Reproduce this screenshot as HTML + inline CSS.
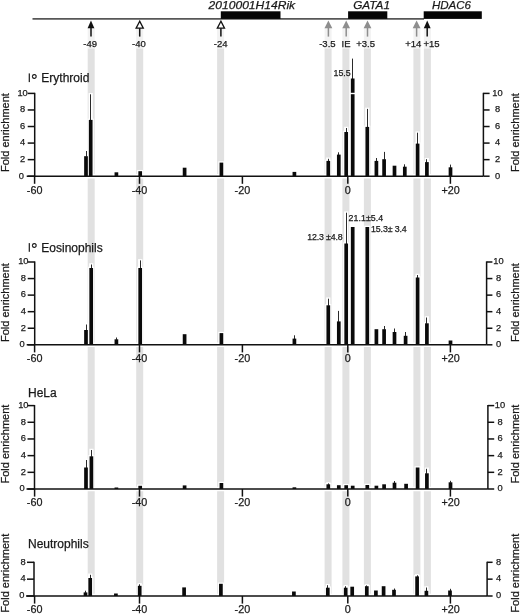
<!DOCTYPE html><html><head><meta charset="utf-8"><title>GATA1 ChIP</title>
<style>html,body{margin:0;padding:0;background:#fff;}svg{display:block;will-change:transform;font-family:"Liberation Sans", sans-serif;}text{stroke:#1a1a1a;stroke-width:0.25px;}</style></head><body>
<svg width="520" height="614" viewBox="0 0 520 614">
<rect width="520" height="614" fill="#fff"/>
<rect x="87.70" y="27.5" width="7.00" height="21.00" fill="#f2f2f2"/>
<rect x="87.70" y="48.50" width="7.00" height="547.50" fill="#e1e1e1"/>
<rect x="136.20" y="27.5" width="7.00" height="21.00" fill="#f2f2f2"/>
<rect x="136.20" y="48.50" width="7.00" height="547.50" fill="#e1e1e1"/>
<rect x="217.10" y="27.5" width="7.00" height="21.00" fill="#f2f2f2"/>
<rect x="217.10" y="48.50" width="7.00" height="547.50" fill="#e1e1e1"/>
<rect x="324.60" y="27.5" width="7.00" height="21.00" fill="#f2f2f2"/>
<rect x="324.60" y="48.50" width="7.00" height="547.50" fill="#e1e1e1"/>
<rect x="342.40" y="27.5" width="7.00" height="21.00" fill="#f2f2f2"/>
<rect x="342.40" y="48.50" width="7.00" height="547.50" fill="#e1e1e1"/>
<rect x="363.90" y="27.5" width="7.00" height="21.00" fill="#f2f2f2"/>
<rect x="363.90" y="48.50" width="7.00" height="547.50" fill="#e1e1e1"/>
<rect x="413.40" y="27.5" width="7.00" height="21.00" fill="#f2f2f2"/>
<rect x="413.40" y="48.50" width="7.00" height="547.50" fill="#e1e1e1"/>
<rect x="423.90" y="27.5" width="7.00" height="21.00" fill="#f2f2f2"/>
<rect x="423.90" y="48.50" width="7.00" height="547.50" fill="#e1e1e1"/>
<line x1="32.5" y1="18.8" x2="424" y2="18.8" stroke="#575757" stroke-width="1.8"/>
<rect x="220.80" y="11.3" width="59.70" height="7.6" fill="#050505"/>
<rect x="348.10" y="11.3" width="39.20" height="7.6" fill="#050505"/>
<rect x="423.70" y="11.3" width="58.10" height="7.6" fill="#050505"/>
<g font-style="italic" font-size="11.5" fill="#1a1a1a">
<text x="208.6" y="9.4" textLength="86.5" lengthAdjust="spacingAndGlyphs">2010001H14Rik</text>
<text x="353.2" y="8.8" textLength="36.8" lengthAdjust="spacingAndGlyphs">GATA1</text>
<text x="432.0" y="9.4" textLength="39.0" lengthAdjust="spacingAndGlyphs">HDAC6</text>
</g>
<path d="M91.00 20.60 L87.60 28.20 L94.40 28.20 Z" fill="#111"/>
<line x1="91.00" y1="27.20" x2="91.00" y2="36.60" stroke="#111" stroke-width="1.5"/>
<path d="M139.70 21.20 L136.10 28.20 L143.30 28.20 Z" fill="#fff" stroke="#111" stroke-width="1.3"/>
<line x1="139.70" y1="28.20" x2="139.70" y2="36.60" stroke="#111" stroke-width="1.5"/>
<path d="M220.90 21.20 L217.30 28.20 L224.50 28.20 Z" fill="#fff" stroke="#111" stroke-width="1.3"/>
<line x1="220.90" y1="28.20" x2="220.90" y2="36.60" stroke="#111" stroke-width="1.5"/>
<path d="M328.40 20.60 L324.50 28.20 L332.30 28.20 Z" fill="#8e8e8e"/>
<line x1="328.40" y1="27.20" x2="328.40" y2="36.60" stroke="#8e8e8e" stroke-width="1.5"/>
<path d="M346.20 20.60 L342.30 28.20 L350.10 28.20 Z" fill="#8e8e8e"/>
<line x1="346.20" y1="27.20" x2="346.20" y2="36.60" stroke="#8e8e8e" stroke-width="1.5"/>
<path d="M367.50 20.60 L363.60 28.20 L371.40 28.20 Z" fill="#8e8e8e"/>
<line x1="367.50" y1="27.20" x2="367.50" y2="36.60" stroke="#8e8e8e" stroke-width="1.5"/>
<path d="M416.60 20.60 L412.70 28.20 L420.50 28.20 Z" fill="#8e8e8e"/>
<line x1="416.60" y1="27.20" x2="416.60" y2="36.60" stroke="#8e8e8e" stroke-width="1.5"/>
<path d="M427.20 20.60 L423.80 28.20 L430.60 28.20 Z" fill="#111"/>
<line x1="427.20" y1="27.20" x2="427.20" y2="36.60" stroke="#111" stroke-width="1.5"/>
<g font-size="9.5" fill="#1a1a1a" text-anchor="middle">
<text x="90.10" y="46.9">-49</text>
<text x="138.90" y="46.9">-40</text>
<text x="220.60" y="46.9">-24</text>
<text x="327.40" y="46.9">-3.5</text>
<text x="346.00" y="46.9">IE</text>
<text x="365.60" y="46.9">+3.5</text>
<text x="413.20" y="46.9">+14</text>
<text x="431.60" y="46.9">+15</text>
</g>
<rect x="28.7" y="73.40" width="1.2" height="8.7" fill="#1a1a1a"/>
<text x="31.0" y="85.50" font-size="16.5" stroke-width="0.3" fill="#1a1a1a">°</text>
<text x="41.3" y="82.00" font-size="12" fill="#1a1a1a">Erythroid</text>
<text transform="translate(9.0 132.60) rotate(-90)" font-size="11" text-anchor="middle" fill="#1a1a1a">Fold enrichment</text>
<text transform="translate(519.0 132.60) rotate(-90)" font-size="11" text-anchor="middle" fill="#1a1a1a">Fold enrichment</text>
<rect x="82.90" y="154.95" width="6.20" height="21.25" fill="#fff"/>
<rect x="83.90" y="149.75" width="4.20" height="6.45" fill="#fff"/>
<rect x="87.60" y="118.65" width="6.20" height="57.55" fill="#fff"/>
<rect x="88.60" y="93.05" width="4.20" height="26.85" fill="#fff"/>
<rect x="113.30" y="171.05" width="6.20" height="5.15" fill="#fff"/>
<rect x="137.10" y="169.95" width="6.20" height="6.25" fill="#fff"/>
<rect x="181.50" y="166.45" width="6.20" height="9.75" fill="#fff"/>
<rect x="218.30" y="161.35" width="6.20" height="14.85" fill="#fff"/>
<rect x="291.30" y="170.65" width="6.20" height="5.55" fill="#fff"/>
<rect x="325.20" y="159.65" width="6.20" height="16.55" fill="#fff"/>
<rect x="326.20" y="157.55" width="4.20" height="3.35" fill="#fff"/>
<rect x="335.70" y="153.35" width="6.20" height="22.85" fill="#fff"/>
<rect x="336.70" y="151.05" width="4.20" height="3.55" fill="#fff"/>
<rect x="343.10" y="130.75" width="6.20" height="45.45" fill="#fff"/>
<rect x="344.10" y="126.75" width="4.20" height="5.25" fill="#fff"/>
<rect x="349.60" y="77.25" width="6.20" height="98.95" fill="#fff"/>
<rect x="350.60" y="57.35" width="4.20" height="21.15" fill="#fff"/>
<rect x="364.20" y="125.65" width="6.20" height="50.55" fill="#fff"/>
<rect x="365.20" y="107.65" width="4.20" height="19.25" fill="#fff"/>
<rect x="373.30" y="159.65" width="6.20" height="16.55" fill="#fff"/>
<rect x="374.30" y="156.75" width="4.20" height="4.15" fill="#fff"/>
<rect x="381.00" y="157.95" width="6.20" height="18.25" fill="#fff"/>
<rect x="382.00" y="150.65" width="4.20" height="8.55" fill="#fff"/>
<rect x="391.40" y="164.45" width="6.20" height="11.75" fill="#fff"/>
<rect x="401.70" y="165.45" width="6.20" height="10.75" fill="#fff"/>
<rect x="402.70" y="163.05" width="4.20" height="3.65" fill="#fff"/>
<rect x="414.50" y="142.35" width="6.20" height="33.85" fill="#fff"/>
<rect x="415.50" y="131.45" width="4.20" height="12.15" fill="#fff"/>
<rect x="423.80" y="160.85" width="6.20" height="15.35" fill="#fff"/>
<rect x="424.80" y="157.95" width="4.20" height="4.15" fill="#fff"/>
<rect x="447.40" y="166.05" width="6.20" height="10.15" fill="#fff"/>
<rect x="448.40" y="163.35" width="4.20" height="3.95" fill="#fff"/>
<line x1="34.70" y1="176.20" x2="483.40" y2="176.20" stroke="#fff" stroke-width="4.5"/>
<line x1="86.50" y1="151.00" x2="86.50" y2="156.70" stroke="#2a2a2a" stroke-width="1"/>
<rect x="84.15" y="156.20" width="3.70" height="20.00" fill="#0a0a0a"/>
<line x1="90.50" y1="94.30" x2="90.50" y2="120.40" stroke="#2a2a2a" stroke-width="1"/>
<rect x="88.85" y="119.90" width="3.70" height="56.30" fill="#0a0a0a"/>
<rect x="114.55" y="172.30" width="3.70" height="3.90" fill="#0a0a0a"/>
<rect x="138.35" y="171.20" width="3.70" height="5.00" fill="#0a0a0a"/>
<rect x="182.75" y="167.70" width="3.70" height="8.50" fill="#0a0a0a"/>
<rect x="219.55" y="162.60" width="3.70" height="13.60" fill="#0a0a0a"/>
<rect x="292.55" y="171.90" width="3.70" height="4.30" fill="#0a0a0a"/>
<line x1="328.50" y1="158.80" x2="328.50" y2="161.40" stroke="#2a2a2a" stroke-width="1"/>
<rect x="326.45" y="160.90" width="3.70" height="15.30" fill="#0a0a0a"/>
<line x1="338.50" y1="152.30" x2="338.50" y2="155.10" stroke="#2a2a2a" stroke-width="1"/>
<rect x="336.95" y="154.60" width="3.70" height="21.60" fill="#0a0a0a"/>
<line x1="346.50" y1="128.00" x2="346.50" y2="132.50" stroke="#2a2a2a" stroke-width="1"/>
<rect x="344.35" y="132.00" width="3.70" height="44.20" fill="#0a0a0a"/>
<line x1="352.50" y1="58.60" x2="352.50" y2="79.00" stroke="#2a2a2a" stroke-width="1"/>
<rect x="350.85" y="78.50" width="3.70" height="97.70" fill="#0a0a0a"/>
<line x1="367.50" y1="108.90" x2="367.50" y2="127.40" stroke="#2a2a2a" stroke-width="1"/>
<rect x="365.45" y="126.90" width="3.70" height="49.30" fill="#0a0a0a"/>
<line x1="376.50" y1="158.00" x2="376.50" y2="161.40" stroke="#2a2a2a" stroke-width="1"/>
<rect x="374.55" y="160.90" width="3.70" height="15.30" fill="#0a0a0a"/>
<line x1="384.50" y1="151.90" x2="384.50" y2="159.70" stroke="#2a2a2a" stroke-width="1"/>
<rect x="382.25" y="159.20" width="3.70" height="17.00" fill="#0a0a0a"/>
<rect x="392.65" y="165.70" width="3.70" height="10.50" fill="#0a0a0a"/>
<line x1="404.50" y1="164.30" x2="404.50" y2="167.20" stroke="#2a2a2a" stroke-width="1"/>
<rect x="402.95" y="166.70" width="3.70" height="9.50" fill="#0a0a0a"/>
<line x1="417.50" y1="132.70" x2="417.50" y2="144.10" stroke="#2a2a2a" stroke-width="1"/>
<rect x="415.75" y="143.60" width="3.70" height="32.60" fill="#0a0a0a"/>
<line x1="426.50" y1="159.20" x2="426.50" y2="162.60" stroke="#2a2a2a" stroke-width="1"/>
<rect x="425.05" y="162.10" width="3.70" height="14.10" fill="#0a0a0a"/>
<line x1="450.50" y1="164.60" x2="450.50" y2="167.80" stroke="#2a2a2a" stroke-width="1"/>
<rect x="448.65" y="167.30" width="3.70" height="8.90" fill="#0a0a0a"/>
<g stroke="#111" stroke-width="1.5" fill="none">
<line x1="26.70" y1="176.20" x2="483.40" y2="176.20"/>
<line x1="34.70" y1="92.80" x2="34.70" y2="176.20"/>
<line x1="483.40" y1="92.80" x2="483.40" y2="176.20"/>
<line x1="27.70" y1="176.20" x2="34.70" y2="176.20"/>
<line x1="483.40" y1="176.20" x2="489.60" y2="176.20"/>
<line x1="27.70" y1="159.64" x2="34.70" y2="159.64"/>
<line x1="483.40" y1="159.64" x2="489.60" y2="159.64"/>
<line x1="27.70" y1="143.08" x2="34.70" y2="143.08"/>
<line x1="483.40" y1="143.08" x2="489.60" y2="143.08"/>
<line x1="27.70" y1="126.52" x2="34.70" y2="126.52"/>
<line x1="483.40" y1="126.52" x2="489.60" y2="126.52"/>
<line x1="27.70" y1="109.96" x2="34.70" y2="109.96"/>
<line x1="483.40" y1="109.96" x2="489.60" y2="109.96"/>
<line x1="27.70" y1="93.40" x2="34.70" y2="93.40"/>
<line x1="483.40" y1="93.40" x2="489.60" y2="93.40"/>
<line x1="34.60" y1="176.20" x2="34.60" y2="183.80"/>
<line x1="139.50" y1="176.20" x2="139.50" y2="183.80"/>
<line x1="242.40" y1="176.20" x2="242.40" y2="183.80"/>
<line x1="347.80" y1="176.20" x2="347.80" y2="183.80"/>
<line x1="450.40" y1="176.20" x2="450.40" y2="183.80"/>
</g>
<g font-size="9.3" text-anchor="middle" fill="#1a1a1a">
<text x="21.40" y="178.50">0</text>
<text x="497.50" y="178.50">0</text>
<text x="22.60" y="161.94">2</text>
<text x="497.50" y="161.94">2</text>
<text x="22.60" y="145.38">4</text>
<text x="497.50" y="145.38">4</text>
<text x="22.60" y="128.82">6</text>
<text x="497.50" y="128.82">6</text>
<text x="22.60" y="112.26">8</text>
<text x="497.50" y="112.26">8</text>
<text x="22.60" y="95.70">10</text>
<text x="497.50" y="95.70">10</text>
</g>
<g font-size="10.8" text-anchor="middle" fill="#1a1a1a">
<text x="34.60" y="193.80">-60</text>
<text x="139.50" y="193.80">-40</text>
<text x="242.40" y="193.80">-20</text>
<text x="347.80" y="193.80">0</text>
<text x="450.70" y="193.80">+20</text>
</g>
<rect x="28.7" y="243.10" width="1.2" height="8.7" fill="#1a1a1a"/>
<text x="31.0" y="255.20" font-size="16.5" stroke-width="0.3" fill="#1a1a1a">°</text>
<text x="41.3" y="251.70" font-size="12" fill="#1a1a1a">Eosinophils</text>
<text transform="translate(9.0 302.60) rotate(-90)" font-size="11" text-anchor="middle" fill="#1a1a1a">Fold enrichment</text>
<text transform="translate(519.0 302.60) rotate(-90)" font-size="11" text-anchor="middle" fill="#1a1a1a">Fold enrichment</text>
<rect x="82.90" y="328.75" width="6.20" height="16.05" fill="#fff"/>
<rect x="83.90" y="323.25" width="4.20" height="6.75" fill="#fff"/>
<rect x="88.10" y="266.75" width="6.20" height="78.05" fill="#fff"/>
<rect x="89.10" y="263.25" width="4.20" height="4.75" fill="#fff"/>
<rect x="113.30" y="338.05" width="6.20" height="6.75" fill="#fff"/>
<rect x="114.30" y="336.25" width="4.20" height="3.05" fill="#fff"/>
<rect x="137.10" y="266.75" width="6.20" height="78.05" fill="#fff"/>
<rect x="138.10" y="259.15" width="4.20" height="8.85" fill="#fff"/>
<rect x="181.50" y="332.95" width="6.20" height="11.85" fill="#fff"/>
<rect x="218.30" y="331.85" width="6.20" height="12.95" fill="#fff"/>
<rect x="291.30" y="337.35" width="6.20" height="7.45" fill="#fff"/>
<rect x="292.30" y="334.05" width="4.20" height="4.55" fill="#fff"/>
<rect x="325.20" y="304.05" width="6.20" height="40.75" fill="#fff"/>
<rect x="326.20" y="297.45" width="4.20" height="7.85" fill="#fff"/>
<rect x="335.70" y="320.15" width="6.20" height="24.65" fill="#fff"/>
<rect x="336.70" y="309.65" width="4.20" height="11.75" fill="#fff"/>
<rect x="343.10" y="242.25" width="6.20" height="102.55" fill="#fff"/>
<rect x="344.10" y="211.45" width="4.20" height="32.05" fill="#fff"/>
<rect x="349.60" y="225.75" width="6.20" height="119.05" fill="#fff"/>
<rect x="364.20" y="225.75" width="6.20" height="119.05" fill="#fff"/>
<rect x="373.30" y="327.95" width="6.20" height="16.85" fill="#fff"/>
<rect x="381.00" y="327.95" width="6.20" height="16.85" fill="#fff"/>
<rect x="382.00" y="324.75" width="4.20" height="4.45" fill="#fff"/>
<rect x="391.40" y="330.75" width="6.20" height="14.05" fill="#fff"/>
<rect x="392.40" y="327.25" width="4.20" height="4.75" fill="#fff"/>
<rect x="402.50" y="334.55" width="6.20" height="10.25" fill="#fff"/>
<rect x="403.50" y="330.75" width="4.20" height="5.05" fill="#fff"/>
<rect x="414.50" y="276.25" width="6.20" height="68.55" fill="#fff"/>
<rect x="415.50" y="273.75" width="4.20" height="3.75" fill="#fff"/>
<rect x="423.80" y="322.05" width="6.20" height="22.75" fill="#fff"/>
<rect x="424.80" y="316.25" width="4.20" height="7.05" fill="#fff"/>
<rect x="447.40" y="339.25" width="6.20" height="5.55" fill="#fff"/>
<line x1="34.70" y1="344.80" x2="486.60" y2="344.80" stroke="#fff" stroke-width="4.5"/>
<line x1="86.50" y1="324.50" x2="86.50" y2="330.50" stroke="#2a2a2a" stroke-width="1"/>
<rect x="84.15" y="330.00" width="3.70" height="14.80" fill="#0a0a0a"/>
<line x1="91.50" y1="264.50" x2="91.50" y2="268.50" stroke="#2a2a2a" stroke-width="1"/>
<rect x="89.35" y="268.00" width="3.70" height="76.80" fill="#0a0a0a"/>
<line x1="116.50" y1="337.50" x2="116.50" y2="339.80" stroke="#2a2a2a" stroke-width="1"/>
<rect x="114.55" y="339.30" width="3.70" height="5.50" fill="#0a0a0a"/>
<line x1="140.50" y1="260.40" x2="140.50" y2="268.50" stroke="#2a2a2a" stroke-width="1"/>
<rect x="138.35" y="268.00" width="3.70" height="76.80" fill="#0a0a0a"/>
<rect x="182.75" y="334.20" width="3.70" height="10.60" fill="#0a0a0a"/>
<rect x="219.55" y="333.10" width="3.70" height="11.70" fill="#0a0a0a"/>
<line x1="294.50" y1="335.30" x2="294.50" y2="339.10" stroke="#2a2a2a" stroke-width="1"/>
<rect x="292.55" y="338.60" width="3.70" height="6.20" fill="#0a0a0a"/>
<line x1="328.50" y1="298.70" x2="328.50" y2="305.80" stroke="#2a2a2a" stroke-width="1"/>
<rect x="326.45" y="305.30" width="3.70" height="39.50" fill="#0a0a0a"/>
<line x1="338.50" y1="310.90" x2="338.50" y2="321.90" stroke="#2a2a2a" stroke-width="1"/>
<rect x="336.95" y="321.40" width="3.70" height="23.40" fill="#0a0a0a"/>
<line x1="346.50" y1="212.70" x2="346.50" y2="244.00" stroke="#2a2a2a" stroke-width="1"/>
<rect x="344.35" y="243.50" width="3.70" height="101.30" fill="#0a0a0a"/>
<rect x="350.85" y="227.00" width="3.70" height="117.80" fill="#0a0a0a"/>
<rect x="365.45" y="227.00" width="3.70" height="117.80" fill="#0a0a0a"/>
<rect x="374.55" y="329.20" width="3.70" height="15.60" fill="#0a0a0a"/>
<line x1="384.50" y1="326.00" x2="384.50" y2="329.70" stroke="#2a2a2a" stroke-width="1"/>
<rect x="382.25" y="329.20" width="3.70" height="15.60" fill="#0a0a0a"/>
<line x1="394.50" y1="328.50" x2="394.50" y2="332.50" stroke="#2a2a2a" stroke-width="1"/>
<rect x="392.65" y="332.00" width="3.70" height="12.80" fill="#0a0a0a"/>
<line x1="405.50" y1="332.00" x2="405.50" y2="336.30" stroke="#2a2a2a" stroke-width="1"/>
<rect x="403.75" y="335.80" width="3.70" height="9.00" fill="#0a0a0a"/>
<line x1="417.50" y1="275.00" x2="417.50" y2="278.00" stroke="#2a2a2a" stroke-width="1"/>
<rect x="415.75" y="277.50" width="3.70" height="67.30" fill="#0a0a0a"/>
<line x1="426.50" y1="317.50" x2="426.50" y2="323.80" stroke="#2a2a2a" stroke-width="1"/>
<rect x="425.05" y="323.30" width="3.70" height="21.50" fill="#0a0a0a"/>
<rect x="448.65" y="340.50" width="3.70" height="4.30" fill="#0a0a0a"/>
<g stroke="#111" stroke-width="1.5" fill="none">
<line x1="26.70" y1="344.80" x2="486.60" y2="344.80"/>
<line x1="34.70" y1="261.40" x2="34.70" y2="344.80"/>
<line x1="486.60" y1="261.40" x2="486.60" y2="344.80"/>
<line x1="27.70" y1="344.80" x2="34.70" y2="344.80"/>
<line x1="486.60" y1="344.80" x2="492.40" y2="344.80"/>
<line x1="27.70" y1="328.24" x2="34.70" y2="328.24"/>
<line x1="486.60" y1="328.24" x2="492.40" y2="328.24"/>
<line x1="27.70" y1="311.68" x2="34.70" y2="311.68"/>
<line x1="486.60" y1="311.68" x2="492.40" y2="311.68"/>
<line x1="27.70" y1="295.12" x2="34.70" y2="295.12"/>
<line x1="486.60" y1="295.12" x2="492.40" y2="295.12"/>
<line x1="27.70" y1="278.56" x2="34.70" y2="278.56"/>
<line x1="486.60" y1="278.56" x2="492.40" y2="278.56"/>
<line x1="27.70" y1="262.00" x2="34.70" y2="262.00"/>
<line x1="486.60" y1="262.00" x2="492.40" y2="262.00"/>
<line x1="34.60" y1="344.80" x2="34.60" y2="352.40"/>
<line x1="139.50" y1="344.80" x2="139.50" y2="352.40"/>
<line x1="242.40" y1="344.80" x2="242.40" y2="352.40"/>
<line x1="347.80" y1="344.80" x2="347.80" y2="352.40"/>
<line x1="450.40" y1="344.80" x2="450.40" y2="352.40"/>
</g>
<g font-size="9.3" text-anchor="middle" fill="#1a1a1a">
<text x="22.10" y="347.10">0</text>
<text x="498.50" y="347.10">0</text>
<text x="23.30" y="330.54">2</text>
<text x="498.50" y="330.54">2</text>
<text x="23.30" y="313.98">4</text>
<text x="498.50" y="313.98">4</text>
<text x="23.30" y="297.42">6</text>
<text x="498.50" y="297.42">6</text>
<text x="23.30" y="280.86">8</text>
<text x="498.50" y="280.86">8</text>
<text x="23.30" y="264.30">10</text>
<text x="498.50" y="264.30">10</text>
</g>
<g font-size="10.8" text-anchor="middle" fill="#1a1a1a">
<text x="34.60" y="361.80">-60</text>
<text x="139.50" y="361.80">-40</text>
<text x="242.40" y="361.80">-20</text>
<text x="347.80" y="361.80">0</text>
<text x="450.70" y="361.80">+20</text>
</g>
<text x="28.0" y="397.30" font-size="12" fill="#1a1a1a">HeLa</text>
<text transform="translate(9.0 444.10) rotate(-90)" font-size="11" text-anchor="middle" fill="#1a1a1a">Fold enrichment</text>
<text transform="translate(519.0 444.10) rotate(-90)" font-size="11" text-anchor="middle" fill="#1a1a1a">Fold enrichment</text>
<rect x="82.90" y="466.25" width="6.20" height="22.75" fill="#fff"/>
<rect x="83.90" y="458.75" width="4.20" height="8.75" fill="#fff"/>
<rect x="88.30" y="455.05" width="6.20" height="33.95" fill="#fff"/>
<rect x="89.30" y="448.75" width="4.20" height="7.55" fill="#fff"/>
<rect x="113.30" y="486.25" width="6.20" height="2.75" fill="#fff"/>
<rect x="137.10" y="484.55" width="6.20" height="4.45" fill="#fff"/>
<rect x="181.50" y="484.15" width="6.20" height="4.85" fill="#fff"/>
<rect x="218.30" y="481.75" width="6.20" height="7.25" fill="#fff"/>
<rect x="291.30" y="486.05" width="6.20" height="2.95" fill="#fff"/>
<rect x="325.20" y="483.05" width="6.20" height="5.95" fill="#fff"/>
<rect x="326.20" y="482.15" width="4.20" height="2.15" fill="#fff"/>
<rect x="335.70" y="483.95" width="6.20" height="5.05" fill="#fff"/>
<rect x="343.10" y="483.95" width="6.20" height="5.05" fill="#fff"/>
<rect x="349.60" y="484.45" width="6.20" height="4.55" fill="#fff"/>
<rect x="364.20" y="483.75" width="6.20" height="5.25" fill="#fff"/>
<rect x="373.30" y="484.45" width="6.20" height="4.55" fill="#fff"/>
<rect x="381.00" y="483.05" width="6.20" height="5.95" fill="#fff"/>
<rect x="391.40" y="481.45" width="6.20" height="7.55" fill="#fff"/>
<rect x="392.40" y="479.75" width="4.20" height="2.95" fill="#fff"/>
<rect x="403.00" y="482.55" width="6.20" height="6.45" fill="#fff"/>
<rect x="414.50" y="466.25" width="6.20" height="22.75" fill="#fff"/>
<rect x="423.80" y="472.05" width="6.20" height="16.95" fill="#fff"/>
<rect x="424.80" y="467.55" width="4.20" height="5.75" fill="#fff"/>
<rect x="447.40" y="481.05" width="6.20" height="7.95" fill="#fff"/>
<rect x="448.40" y="479.55" width="4.20" height="2.75" fill="#fff"/>
<line x1="34.50" y1="489.00" x2="487.90" y2="489.00" stroke="#fff" stroke-width="4.5"/>
<line x1="86.50" y1="460.00" x2="86.50" y2="468.00" stroke="#2a2a2a" stroke-width="1"/>
<rect x="84.15" y="467.50" width="3.70" height="21.50" fill="#0a0a0a"/>
<line x1="91.50" y1="450.00" x2="91.50" y2="456.80" stroke="#2a2a2a" stroke-width="1"/>
<rect x="89.55" y="456.30" width="3.70" height="32.70" fill="#0a0a0a"/>
<rect x="114.55" y="487.50" width="3.70" height="1.50" fill="#0a0a0a"/>
<rect x="138.35" y="485.80" width="3.70" height="3.20" fill="#0a0a0a"/>
<rect x="182.75" y="485.40" width="3.70" height="3.60" fill="#0a0a0a"/>
<rect x="219.55" y="483.00" width="3.70" height="6.00" fill="#0a0a0a"/>
<rect x="292.55" y="487.30" width="3.70" height="1.70" fill="#0a0a0a"/>
<line x1="328.50" y1="483.40" x2="328.50" y2="484.80" stroke="#2a2a2a" stroke-width="1"/>
<rect x="326.45" y="484.30" width="3.70" height="4.70" fill="#0a0a0a"/>
<rect x="336.95" y="485.20" width="3.70" height="3.80" fill="#0a0a0a"/>
<rect x="344.35" y="485.20" width="3.70" height="3.80" fill="#0a0a0a"/>
<rect x="350.85" y="485.70" width="3.70" height="3.30" fill="#0a0a0a"/>
<rect x="365.45" y="485.00" width="3.70" height="4.00" fill="#0a0a0a"/>
<rect x="374.55" y="485.70" width="3.70" height="3.30" fill="#0a0a0a"/>
<rect x="382.25" y="484.30" width="3.70" height="4.70" fill="#0a0a0a"/>
<line x1="394.50" y1="481.00" x2="394.50" y2="483.20" stroke="#2a2a2a" stroke-width="1"/>
<rect x="392.65" y="482.70" width="3.70" height="6.30" fill="#0a0a0a"/>
<rect x="404.25" y="483.80" width="3.70" height="5.20" fill="#0a0a0a"/>
<rect x="415.75" y="467.50" width="3.70" height="21.50" fill="#0a0a0a"/>
<line x1="426.50" y1="468.80" x2="426.50" y2="473.80" stroke="#2a2a2a" stroke-width="1"/>
<rect x="425.05" y="473.30" width="3.70" height="15.70" fill="#0a0a0a"/>
<line x1="450.50" y1="480.80" x2="450.50" y2="482.80" stroke="#2a2a2a" stroke-width="1"/>
<rect x="448.65" y="482.30" width="3.70" height="6.70" fill="#0a0a0a"/>
<g stroke="#111" stroke-width="1.5" fill="none">
<line x1="26.50" y1="489.00" x2="487.90" y2="489.00"/>
<line x1="34.50" y1="405.00" x2="34.50" y2="489.00"/>
<line x1="487.90" y1="405.00" x2="487.90" y2="489.00"/>
<line x1="27.50" y1="489.00" x2="34.50" y2="489.00"/>
<line x1="487.90" y1="489.00" x2="494.20" y2="489.00"/>
<line x1="27.50" y1="472.32" x2="34.50" y2="472.32"/>
<line x1="487.90" y1="472.32" x2="494.20" y2="472.32"/>
<line x1="27.50" y1="455.64" x2="34.50" y2="455.64"/>
<line x1="487.90" y1="455.64" x2="494.20" y2="455.64"/>
<line x1="27.50" y1="438.96" x2="34.50" y2="438.96"/>
<line x1="487.90" y1="438.96" x2="494.20" y2="438.96"/>
<line x1="27.50" y1="422.28" x2="34.50" y2="422.28"/>
<line x1="487.90" y1="422.28" x2="494.20" y2="422.28"/>
<line x1="27.50" y1="405.60" x2="34.50" y2="405.60"/>
<line x1="487.90" y1="405.60" x2="494.20" y2="405.60"/>
<line x1="34.60" y1="489.00" x2="34.60" y2="496.60"/>
<line x1="139.50" y1="489.00" x2="139.50" y2="496.60"/>
<line x1="242.40" y1="489.00" x2="242.40" y2="496.60"/>
<line x1="347.80" y1="489.00" x2="347.80" y2="496.60"/>
<line x1="450.40" y1="489.00" x2="450.40" y2="496.60"/>
</g>
<g font-size="9.3" text-anchor="middle" fill="#1a1a1a">
<text x="22.10" y="491.30">0</text>
<text x="500.00" y="491.30">0</text>
<text x="23.30" y="474.62">2</text>
<text x="500.00" y="474.62">2</text>
<text x="23.30" y="457.94">4</text>
<text x="500.00" y="457.94">4</text>
<text x="23.30" y="441.26">6</text>
<text x="500.00" y="441.26">6</text>
<text x="23.30" y="424.58">8</text>
<text x="500.00" y="424.58">8</text>
<text x="23.30" y="407.90">10</text>
<text x="500.00" y="407.90">10</text>
</g>
<g font-size="10.8" text-anchor="middle" fill="#1a1a1a">
<text x="34.60" y="505.80">-60</text>
<text x="139.50" y="505.80">-40</text>
<text x="242.40" y="505.80">-20</text>
<text x="347.80" y="505.80">0</text>
<text x="450.70" y="505.80">+20</text>
</g>
<text x="28.0" y="547.80" font-size="12" fill="#1a1a1a">Neutrophils</text>
<text transform="translate(9.0 573.20) rotate(-90)" font-size="11" text-anchor="middle" fill="#1a1a1a">Fold enrichment</text>
<text transform="translate(519.0 573.20) rotate(-90)" font-size="11" text-anchor="middle" fill="#1a1a1a">Fold enrichment</text>
<rect x="82.40" y="591.15" width="6.20" height="4.85" fill="#fff"/>
<rect x="83.40" y="589.45" width="4.20" height="2.95" fill="#fff"/>
<rect x="87.10" y="576.75" width="6.20" height="19.25" fill="#fff"/>
<rect x="88.10" y="573.55" width="4.20" height="4.45" fill="#fff"/>
<rect x="112.80" y="592.25" width="6.20" height="3.75" fill="#fff"/>
<rect x="136.60" y="584.55" width="6.20" height="11.45" fill="#fff"/>
<rect x="137.60" y="583.05" width="4.20" height="2.75" fill="#fff"/>
<rect x="181.00" y="586.15" width="6.20" height="9.85" fill="#fff"/>
<rect x="217.80" y="582.55" width="6.20" height="13.45" fill="#fff"/>
<rect x="290.80" y="590.25" width="6.20" height="5.75" fill="#fff"/>
<rect x="324.70" y="586.45" width="6.20" height="9.55" fill="#fff"/>
<rect x="325.70" y="583.95" width="4.20" height="3.75" fill="#fff"/>
<rect x="342.60" y="586.45" width="6.20" height="9.55" fill="#fff"/>
<rect x="343.60" y="584.95" width="4.20" height="2.75" fill="#fff"/>
<rect x="349.10" y="585.45" width="6.20" height="10.55" fill="#fff"/>
<rect x="363.70" y="584.95" width="6.20" height="11.05" fill="#fff"/>
<rect x="364.70" y="584.15" width="4.20" height="2.05" fill="#fff"/>
<rect x="372.80" y="589.25" width="6.20" height="6.75" fill="#fff"/>
<rect x="380.50" y="584.95" width="6.20" height="11.05" fill="#fff"/>
<rect x="390.90" y="588.55" width="6.20" height="7.45" fill="#fff"/>
<rect x="391.90" y="587.25" width="4.20" height="2.55" fill="#fff"/>
<rect x="414.00" y="575.15" width="6.20" height="20.85" fill="#fff"/>
<rect x="415.00" y="574.05" width="4.20" height="2.35" fill="#fff"/>
<rect x="423.30" y="589.55" width="6.20" height="6.45" fill="#fff"/>
<rect x="424.30" y="586.25" width="4.20" height="4.55" fill="#fff"/>
<rect x="446.90" y="589.25" width="6.20" height="6.75" fill="#fff"/>
<rect x="447.90" y="587.55" width="4.20" height="2.95" fill="#fff"/>
<line x1="34.00" y1="596.00" x2="487.10" y2="596.00" stroke="#fff" stroke-width="4.5"/>
<line x1="85.50" y1="590.70" x2="85.50" y2="592.90" stroke="#2a2a2a" stroke-width="1"/>
<rect x="83.65" y="592.40" width="3.70" height="3.60" fill="#0a0a0a"/>
<line x1="90.50" y1="574.80" x2="90.50" y2="578.50" stroke="#2a2a2a" stroke-width="1"/>
<rect x="88.35" y="578.00" width="3.70" height="18.00" fill="#0a0a0a"/>
<rect x="114.05" y="593.50" width="3.70" height="2.50" fill="#0a0a0a"/>
<line x1="139.50" y1="584.30" x2="139.50" y2="586.30" stroke="#2a2a2a" stroke-width="1"/>
<rect x="137.85" y="585.80" width="3.70" height="10.20" fill="#0a0a0a"/>
<rect x="182.25" y="587.40" width="3.70" height="8.60" fill="#0a0a0a"/>
<rect x="219.05" y="583.80" width="3.70" height="12.20" fill="#0a0a0a"/>
<rect x="292.05" y="591.50" width="3.70" height="4.50" fill="#0a0a0a"/>
<line x1="327.50" y1="585.20" x2="327.50" y2="588.20" stroke="#2a2a2a" stroke-width="1"/>
<rect x="325.95" y="587.70" width="3.70" height="8.30" fill="#0a0a0a"/>
<line x1="345.50" y1="586.20" x2="345.50" y2="588.20" stroke="#2a2a2a" stroke-width="1"/>
<rect x="343.85" y="587.70" width="3.70" height="8.30" fill="#0a0a0a"/>
<rect x="350.35" y="586.70" width="3.70" height="9.30" fill="#0a0a0a"/>
<line x1="366.50" y1="585.40" x2="366.50" y2="586.70" stroke="#2a2a2a" stroke-width="1"/>
<rect x="364.95" y="586.20" width="3.70" height="9.80" fill="#0a0a0a"/>
<rect x="374.05" y="590.50" width="3.70" height="5.50" fill="#0a0a0a"/>
<rect x="381.75" y="586.20" width="3.70" height="9.80" fill="#0a0a0a"/>
<line x1="394.50" y1="588.50" x2="394.50" y2="590.30" stroke="#2a2a2a" stroke-width="1"/>
<rect x="392.15" y="589.80" width="3.70" height="6.20" fill="#0a0a0a"/>
<line x1="417.50" y1="575.30" x2="417.50" y2="576.90" stroke="#2a2a2a" stroke-width="1"/>
<rect x="415.25" y="576.40" width="3.70" height="19.60" fill="#0a0a0a"/>
<line x1="426.50" y1="587.50" x2="426.50" y2="591.30" stroke="#2a2a2a" stroke-width="1"/>
<rect x="424.55" y="590.80" width="3.70" height="5.20" fill="#0a0a0a"/>
<line x1="450.50" y1="588.80" x2="450.50" y2="591.00" stroke="#2a2a2a" stroke-width="1"/>
<rect x="448.15" y="590.50" width="3.70" height="5.50" fill="#0a0a0a"/>
<g stroke="#111" stroke-width="1.5" fill="none">
<line x1="26.00" y1="596.00" x2="487.10" y2="596.00"/>
<line x1="34.00" y1="561.70" x2="34.00" y2="596.00"/>
<line x1="487.10" y1="561.70" x2="487.10" y2="596.00"/>
<line x1="27.00" y1="596.00" x2="34.00" y2="596.00"/>
<line x1="487.10" y1="596.00" x2="492.60" y2="596.00"/>
<line x1="27.00" y1="579.15" x2="34.00" y2="579.15"/>
<line x1="487.10" y1="579.15" x2="492.60" y2="579.15"/>
<line x1="27.00" y1="562.30" x2="34.00" y2="562.30"/>
<line x1="487.10" y1="562.30" x2="492.60" y2="562.30"/>
<line x1="34.60" y1="596.00" x2="34.60" y2="603.60"/>
<line x1="139.50" y1="596.00" x2="139.50" y2="603.60"/>
<line x1="242.40" y1="596.00" x2="242.40" y2="603.60"/>
<line x1="347.80" y1="596.00" x2="347.80" y2="603.60"/>
<line x1="450.40" y1="596.00" x2="450.40" y2="603.60"/>
</g>
<g font-size="9.3" text-anchor="middle" fill="#1a1a1a">
<text x="21.80" y="598.30">0</text>
<text x="498.70" y="598.30">0</text>
<text x="23.00" y="581.45">4</text>
<text x="498.70" y="581.45">4</text>
<text x="23.00" y="564.60">8</text>
<text x="498.70" y="564.60">8</text>
</g>
<g font-size="10.8" text-anchor="middle" fill="#1a1a1a">
<text x="34.60" y="613.20">-60</text>
<text x="139.50" y="613.20">-40</text>
<text x="242.40" y="613.20">-20</text>
<text x="347.80" y="613.20">0</text>
<text x="450.70" y="613.20">+20</text>
</g>
<rect x="349.9" y="92.8" width="5.6" height="1.4" fill="#fff"/>
<g font-size="8.8" fill="#1a1a1a">
<text x="333.5" y="76.3">15.5</text>
<text x="307.3" y="239.7" textLength="35.3" lengthAdjust="spacing">12.3 ±4.8</text>
<text x="348.6" y="221.3" textLength="34.6" lengthAdjust="spacing">21.1±5.4</text>
<text x="371.1" y="232.3" textLength="35.5" lengthAdjust="spacing">15.3± 3.4</text>
</g>
</svg></body></html>
